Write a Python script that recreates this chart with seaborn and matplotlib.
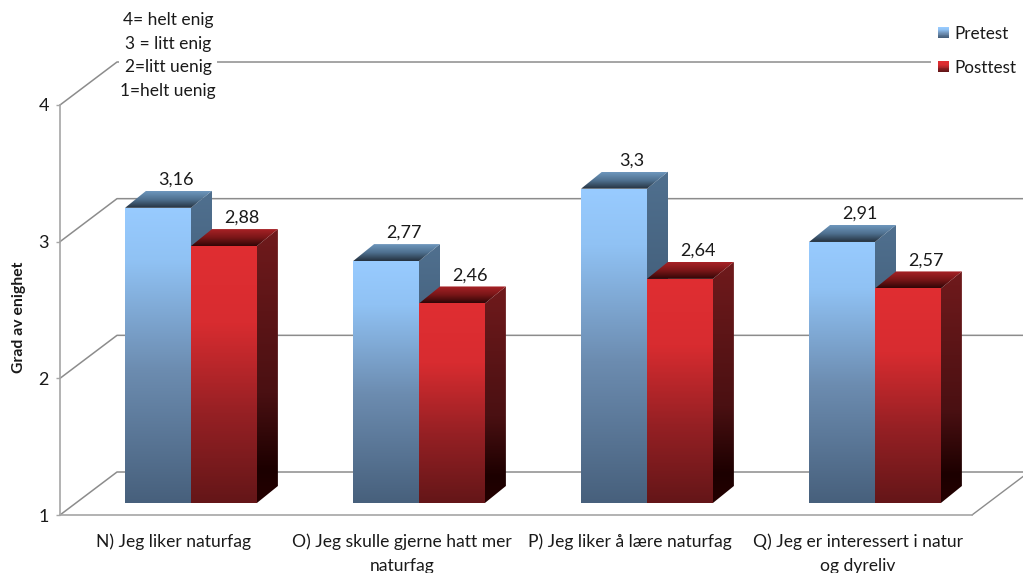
import numpy as np
import pandas as pd
import seaborn as sns
import matplotlib
matplotlib.use("Agg")
import matplotlib.pyplot as plt
from matplotlib.colors import LinearSegmentedColormap as LSC
from matplotlib.patches import Polygon, Rectangle
from matplotlib.legend_handler import HandlerBase

categories = ["N) Jeg liker naturfag", "O) Jeg skulle gjerne hatt mer\nnaturfag",
              "P) Jeg liker å lære naturfag", "Q) Jeg er interessert i natur\nog dyreliv"]
pretest = [3.16, 2.77, 3.30, 2.91]
posttest = [2.88, 2.46, 2.64, 2.57]
series_names = ["Pretest", "Posttest"]
yticks = [1, 2, 3, 4]
scale_note = "4= helt enig\n3 = litt enig\n2=litt uenig\n1=helt uenig"

W, H = 1023, 573
sns.set_theme(style="white")
plt.rcParams["font.family"] = ["Lato", "DejaVu Sans"]
TXT = "#1a1a1a"
FS = 12.6

df = pd.DataFrame({"cat": categories * 2, "value": pretest + posttest,
                   "series": [series_names[0]] * 4 + [series_names[1]] * 4})

fig = plt.figure(figsize=(W / 100, H / 100), dpi=100, facecolor="white")
def rect(l, r, t, b):
    return [l / W, 1 - b / H, (r - l) / W, (b - t) / H]

# wall axes (real axes, ticks, labels)
ax = fig.add_axes(rect(60, 972, 105, 515))
# bars sit further forward in the pseudo-3D projection
bx = fig.add_axes(rect(77, 989, 93, 503))
bx.patch.set_visible(False)

ax.set_xlim(-.5, 3.5); ax.set_ylim(1, 4)
GRID = "#8c8c8c"
for s in ["top", "right"]:
    ax.spines[s].set_visible(False)
for s in ["left", "bottom"]:
    ax.spines[s].set_color("#a6a6a6"); ax.spines[s].set_linewidth(1.2)
ax.set_yticks(yticks)
ax.set_xticks(range(4)); ax.set_xticklabels(categories, fontsize=FS, color=TXT, linespacing=1.6)
ax.set_xticks(np.arange(-.5, 4), minor=True)
ax.tick_params(axis="x", which="major", length=0, pad=13.5)
ax.tick_params(axis="x", which="minor", length=7, color="#a6a6a6", width=1)
ax.tick_params(axis="y", length=3, color="#a6a6a6", width=1, labelsize=13, labelcolor=TXT, pad=5,
               left=True)
ax.set_ylabel("Grad av enighet", fontsize=11.3, fontweight="bold", color=TXT)
ax.yaxis.set_label_coords((26 - 60) / 912, (515 - 317) / 410)

wall_dx, wall_dy = 57 / 228, 43 / 136.67
for v in yticks:
    ax.plot([-.5, -.5 + wall_dx, 3.5 + wall_dx], [v, v + wall_dy, v + wall_dy],
            color=GRID, lw=1.1, clip_on=False, zorder=1)
ax.plot([3.5, 3.5 + wall_dx], [1, 1 + wall_dy], color=GRID, lw=1, clip_on=False, zorder=1)

# bars
sns.barplot(data=df, x="cat", y="value", hue="series", ax=bx, width=0.578, legend=False,
            palette=["#7fa8d0", "#b02226"], saturation=1, edgecolor="none", linewidth=0)
bx.set_xlim(-.5, 3.5); bx.set_ylim(1, 4); bx.axis("off")

front = [LSC.from_list("f0", [(0, "#98cbff"), (.18, "#90c2f4"), (.55, "#6c8cb0"), (1, "#47607c")]),
         LSC.from_list("f1", [(0, "#e02e32"), (.3, "#d82c30"), (.65, "#962024"), (1, "#641618")])]
side = [LSC.from_list("s0", ["#50708f", "#3f5a75", "#2a3d50"]),
        LSC.from_list("s1", [(0, "#701a1c"), (.6, "#4a1012"), (.88, "#1c0000"), (1, "#240000")])]
top = [LSC.from_list("t0", ["#6e97bd", "#4f708f", "#24313e"]),
       LSC.from_list("t1", ["#a82226", "#7a1618", "#300606"])]
grad = np.linspace(0, 1, 256)[:, None]
d_x, d_y = 21 / 228, 17 / 136.67

def shade(a, poly, cmap, z):
    xs, ys = zip(*poly)
    im = a.imshow(grad, cmap=cmap, aspect="auto", origin="upper", vmin=0, vmax=1, zorder=z,
                  extent=[min(xs), max(xs), min(ys), max(ys)], interpolation="bilinear")
    im.set_clip_path(Polygon(poly, closed=True, transform=a.transData))

z = 3
for k, cont in enumerate(bx.containers):
    for p in cont:
        x0, x1, v = p.get_x(), p.get_x() + p.get_width(), p.get_height()
        zz = z + (x0 + 1) * 3 + k
        shade(bx, [(x1, 1), (x1 + d_x, 1 + d_y), (x1 + d_x, v + d_y), (x1, v)], side[k], zz)
        shade(bx, [(x0, v), (x1, v), (x1 + d_x, v + d_y), (x0 + d_x, v + d_y)], top[k], zz)
        shade(bx, [(x0, 1), (x1, 1), (x1, v), (x0, v)], front[k], zz + .1)
        bx.annotate(f"{v:g}".replace(".", ","), (x0 + (x1 - x0) / 2, v), xytext=(18, 28),
                    textcoords="offset pixels", ha="center", va="center", fontsize=13, color=TXT,
                    zorder=50)
        p.set_visible(False)
bx.set_xlim(-.5, 3.5); bx.set_ylim(1, 4)

# scale note, white background interrupts the top gridline
fig.text(168 / W, 1 - 55.5 / H, scale_note, ha="center", va="center", fontsize=12.5, color=TXT,
         linespacing=1.6, zorder=60,
         bbox=dict(facecolor="white", edgecolor="none", pad=1))

# legend with gradient keys
class GradHandler(HandlerBase):
    def __init__(self, cmap):
        super().__init__(); self.cmap = cmap
    def create_artists(self, legend, orig, xd, yd, w, h, fs, trans):
        n = 12
        out = []
        s = 11 * 72 / 100
        for i in range(n):
            out.append(Rectangle((-xd, -yd + (h - s) / 2 + s * (n - 1 - i) / n), s, s / n + .1,
                                 facecolor=self.cmap(i / (n - 1)), edgecolor="none", transform=trans))
        return out

h0, h1 = Rectangle((0, 0), 1, 1), Rectangle((0, 0), 1, 1)
leg = fig.legend([h0, h1], series_names, handler_map={h0: GradHandler(front[0]), h1: GradHandler(front[1])},
                 loc="upper left", bbox_to_anchor=(931 / W, 1 - 19 / H), frameon=True, fontsize=12.3,
                 labelspacing=1.05, handlelength=.7, handletextpad=.25, borderpad=.4, borderaxespad=0,
                 facecolor="white", edgecolor="none", framealpha=1, labelcolor=TXT, fancybox=False)
leg.set_zorder(60)

fig.savefig("out.png", dpi=100)
